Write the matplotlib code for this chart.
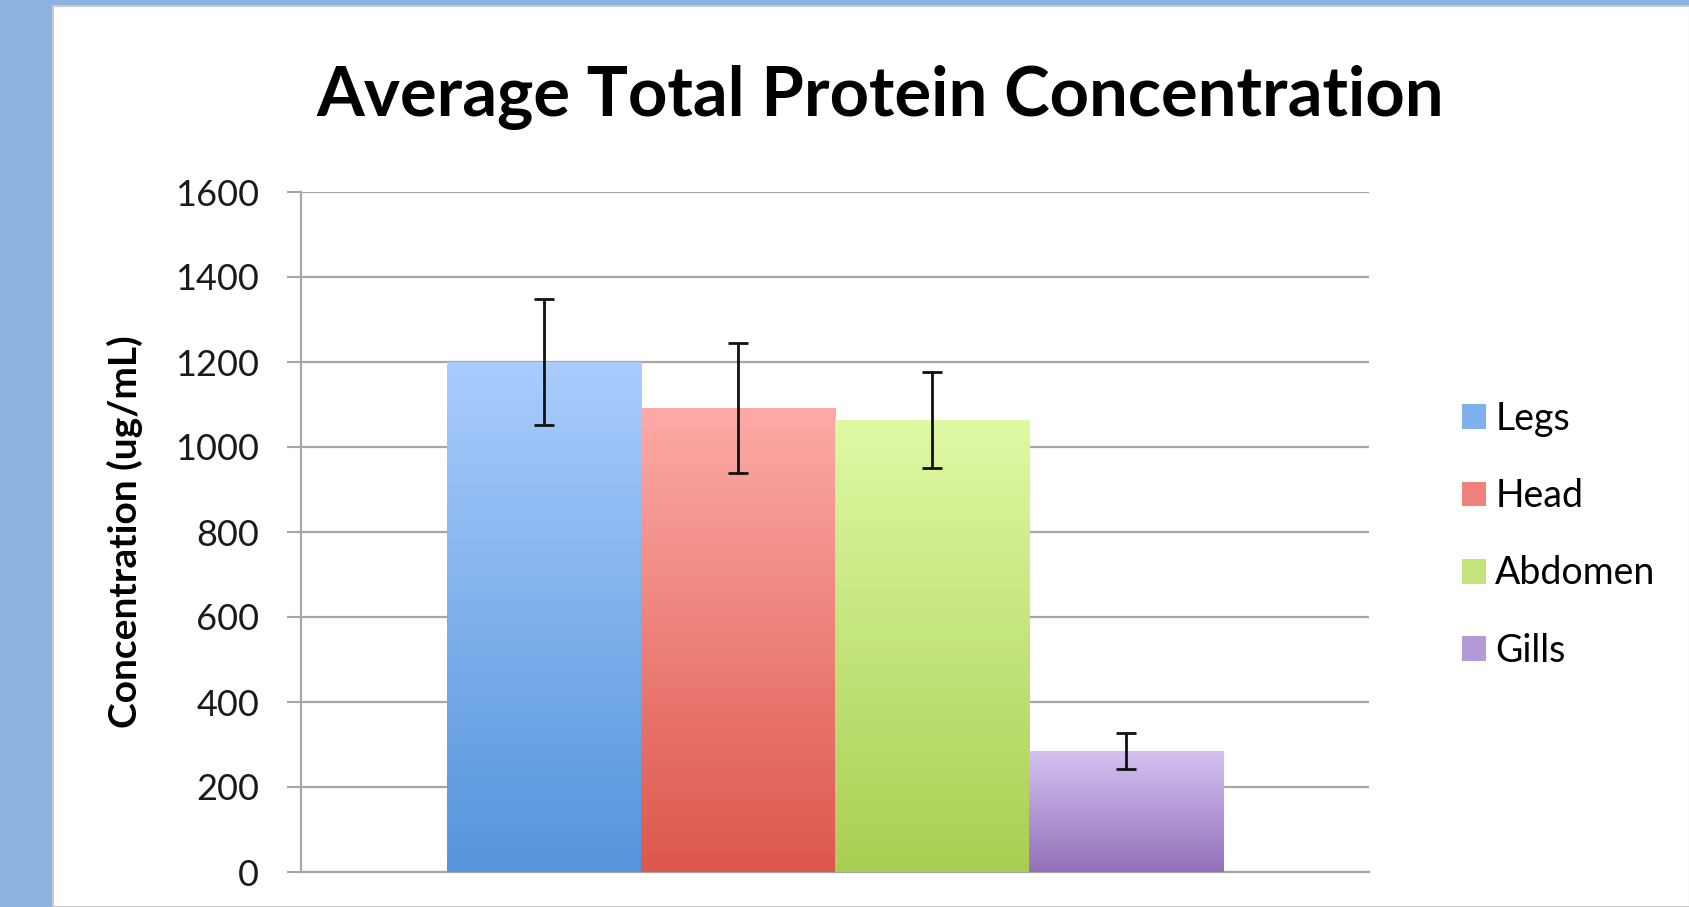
import numpy as np
import matplotlib.pyplot as plt
from matplotlib.patches import Rectangle
from matplotlib.colors import LinearSegmentedColormap

# Data
parts = ["Legs", "Head", "Abdomen", "Gills"]
means = [1200, 1091, 1064, 285]
errors = [148, 153, 113, 43]
yticks = [0, 200, 400, 600, 800, 1000, 1200, 1400, 1600]

# gradient colours (top, bottom) per bar
top_colors = ["#a9ccfd", "#fdaaa6", "#dff9a4", "#d4c2f1"]
bottom_colors = ["#5595dc", "#dc574d", "#a9cf52", "#9370bb"]
mid_colors = ["#7fb1ec", "#ee817a", "#c4e47b", "#b39ad6"]

plt.rcParams['font.family'] = ['Lato', 'DejaVu Sans']

fig = plt.figure(figsize=(16.9, 9.07), dpi=100)
fig.patch.set_facecolor("#8db3e2")
fig.patches.append(Rectangle((53 / 1690, 0), 1 - 53 / 1690, 1 - 6 / 907,
                             transform=fig.transFigure, facecolor="white",
                             edgecolor="#c8c8c8", linewidth=1.5, zorder=-10))

ax = fig.add_axes([301 / 1690, 1 - 872 / 907, (1369 - 301) / 1690, (872 - 192) / 907])
ax.set_facecolor("none")

n = len(parts)
width = 1 / (n + 1.5)
x = (np.arange(n) - (n - 1) / 2) * width

bars = ax.bar(x, means, width=width, color=mid_colors, label=parts, zorder=2)
ax.errorbar(x, means, yerr=errors, fmt="none", ecolor="#111111", elinewidth=2.0,
            capsize=7, capthick=2.0, zorder=4)

# vertical gradient fill clipped to each bar
for b, ct, cb in zip(bars, top_colors, bottom_colors):
    cmap = LinearSegmentedColormap.from_list("g", [cb, ct])
    grad = np.linspace(0, 1, 256).reshape(-1, 1)
    x0, y0 = b.get_x(), b.get_y()
    im = ax.imshow(grad, cmap=cmap, aspect="auto", origin="lower",
                   extent=[x0, x0 + b.get_width(), y0, y0 + b.get_height()], zorder=3)
    im.set_clip_path(b)

ax.set_xlim(-0.5, 0.5)
ax.set_ylim(0, 1600)
ax.set_yticks(yticks)
ax.set_xticks([])
ax.tick_params(axis="y", direction="out", length=10, width=1.5, color="#a6a6a6",
               labelsize=26, labelcolor="#1a1a1a", pad=20)
ax.grid(axis="y", color="#a6a6a6", linewidth=1.6, zorder=1)
ax.set_axisbelow(True)
for s in ["top", "right"]:
    ax.spines[s].set_visible(False)
for s in ["left", "bottom"]:
    ax.spines[s].set_color("#a6a6a6")
    ax.spines[s].set_linewidth(1.6)

ax.set_ylabel("Concentration (ug/mL)", fontsize=28, fontweight="bold", labelpad=22)
ax.yaxis.set_label_coords(125 / 1690, 0.5, transform=fig.transFigure)
ax.yaxis.label.set_va("center")
ax.yaxis.label.set_y((907 - 532) / 907)
fig.text(880 / 1690, 1 - 98 / 907, "Average Total Protein Concentration",
         fontsize=49.5, fontweight="bold", ha="center", va="center")

leg = ax.legend(handles=list(bars), labels=parts, loc="upper left",
                bbox_to_anchor=(1462 / 1690, 1 - 401 / 907), bbox_transform=fig.transFigure,
                frameon=False, fontsize=27, handlelength=0.64, handleheight=0.64,
                handletextpad=0.25, labelspacing=1.1, borderpad=0, borderaxespad=0)

plt.savefig("out.png", dpi=100, facecolor=fig.get_facecolor())
